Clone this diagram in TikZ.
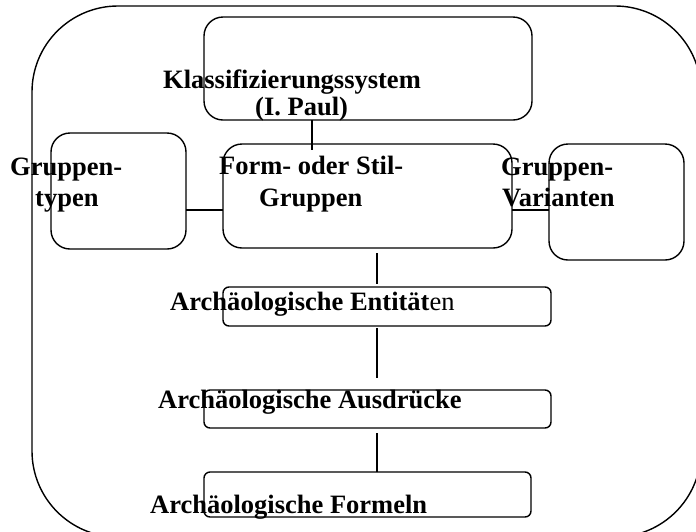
\documentclass[tikz,border=0pt]{standalone}
\usepackage{fontspec}
\setmainfont{Liberation Serif}
\usepackage{tikz}
\usetikzlibrary{positioning,calc}
\tikzset{
  outerbox/.style={draw=black,line width=1.4pt,rounded corners=86pt},
  bigbox/.style={draw=black,line width=1.4pt,rounded corners=19pt,
    inner sep=0pt,outer sep=0pt},
  flatbox/.style={draw=black,line width=1.4pt,rounded corners=6pt,
    inner sep=0pt,outer sep=0pt},
  link/.style={line width=1.4pt,black},
  lbl/.style={anchor=base west,inner sep=0pt,
    font=\fontsize{26.5}{30}\selectfont\bfseries},
}
\begin{document}
\begin{tikzpicture}[x=1pt,y=-1pt]
  \useasboundingbox (0,0) rectangle (696,531);
  \clip (0,0) rectangle (696,531);
  \draw[outerbox] (32,6) rectangle (701,537);
  % boxes
  \node[bigbox,minimum width=328pt,minimum height=103pt] (klass) at (368,68.5) {};
  \node[bigbox,minimum width=135pt,minimum height=116pt] (typen) at (118.5,191) {};
  \node[bigbox,minimum width=289pt,minimum height=104pt] (formgr) at (367.5,196) {};
  \node[bigbox,minimum width=135pt,minimum height=116pt] (variant) at (616.5,202) {};
  \node[flatbox,minimum width=328pt,minimum height=39pt] (entit) at (387,306.5) {};
  \node[flatbox,minimum width=347pt,minimum height=38pt] (ausdr) at (377.5,409) {};
  \node[flatbox,minimum width=327pt,minimum height=45pt] (formeln) at (367.5,494.5) {};
  % connectors
  \coordinate (spine) at (377,0);
  \draw[link] ([xshift=-56pt]klass.south) -- ([xshift=-55.5pt,yshift=-6pt]formgr.north);
  \draw[link] ([yshift=-19pt]typen.east) -- ([yshift=-19pt]typen.east -| formgr.west);
  \draw[link] ([yshift=-8pt]variant.west -| formgr.east) -- ([yshift=-8pt]variant.west);
  \draw[link] ([yshift=-5pt]formgr.south -| spine) -- ([yshift=3pt]entit.north -| spine);
  \draw[link] ([yshift=-2pt]entit.south -| spine) -- ([yshift=12pt]ausdr.north -| spine);
  \draw[link] ([yshift=-5pt]ausdr.south -| spine) -- (formeln.north -| spine);
  % texts
  \node[lbl] (lklass) at (163,88) {Klassifizierungssystem};
  \node[lbl] (lpaul) at (255,115) {(I. Paul)};
  \node[lbl] (ltyp1) at (10,175) {Gruppen-};
  \node[lbl] (ltyp2) at (35,206) {typen};
  \node[lbl] (lform1) at (219,174) {Form- oder Stil-};
  \node[lbl] (lform2) at (259,206) {Gruppen};
  \node[lbl] (lvar1) at (501,175) {Gruppen-};
  \node[lbl] (lvar2) at (502,206) {Varianten};
  \node[lbl] (lentit) at (170,310) {Archäologische Entität{\mdseries en}};
  \node[lbl] (lausdr) at (158,408) {Archäologische Ausdrücke};
  \node[lbl] (lformeln) at (150,513) {Archäologische Formeln};
\end{tikzpicture}
\end{document}
